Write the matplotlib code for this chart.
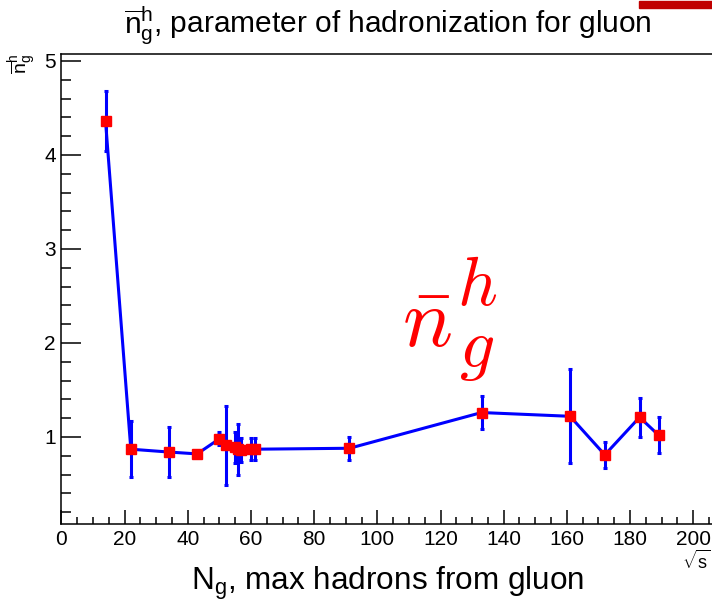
import matplotlib
matplotlib.use("Agg")
import matplotlib.pyplot as plt
from matplotlib.ticker import MultipleLocator
from matplotlib.patches import Rectangle

plt.rcParams['font.family'] = ['Liberation Sans', 'DejaVu Sans']
plt.rcParams['mathtext.fontset'] = 'custom'
plt.rcParams['mathtext.rm'] = 'Liberation Sans'
plt.rcParams['mathtext.it'] = 'Liberation Sans:italic'

# energies (sqrt s, GeV) and fitted parameter with errors
energies = [14, 22, 34, 43, 50, 52, 55, 56, 57, 60, 61.4, 91.2, 133, 161, 172, 183, 189]
nbar = [4.36, 0.87, 0.84, 0.82, 0.98, 0.91, 0.89, 0.87, 0.86, 0.87, 0.87, 0.88,
        1.26, 1.22, 0.81, 1.21, 1.02]
nbar_err = [0.32, 0.30, 0.27, 0.02, 0.07, 0.42, 0.165, 0.27, 0.13, 0.12, 0.12, 0.12,
            0.18, 0.50, 0.14, 0.21, 0.19]

W, H = 712, 606
fig = plt.figure(figsize=(W / 100, H / 100), dpi=100)
ax = fig.add_axes([61.3 / W, 1 - 524.4 / H, 679.4 / W, 470 / H])

ax.errorbar(energies, nbar, yerr=nbar_err, color='blue', lw=2.2, elinewidth=2.2,
            capsize=1.5, capthick=2.2, marker='s', ms=6.5, mfc='red', mec='red',
            zorder=3)

ax.set_xlim(0, 215)
ax.set_ylim(0.07, 5.07)
ax.xaxis.set_major_locator(MultipleLocator(20))
ax.xaxis.set_minor_locator(MultipleLocator(5))
ax.yaxis.set_major_locator(MultipleLocator(1))
ax.yaxis.set_minor_locator(MultipleLocator(0.2))
ax.tick_params(which='both', direction='in', top=False, right=False, labelsize=15)
ax.tick_params(axis='x', which='major', length=10, width=1.1, pad=4)
ax.tick_params(axis='x', which='minor', length=5, width=1.1)
ax.tick_params(axis='y', which='major', length=14.4, width=1.1, pad=4)
ax.tick_params(axis='y', which='minor', length=7.2, width=1.1)
for s in ax.spines.values():
    s.set_linewidth(1.1)

# titles
fig.text(388 / W, 1 - 33 / H,
         r'$\overline{\mathregular{n}}_{\mathregular{g}}^{\mathregular{h}}$, parameter of hadronization for gluon',
         ha='center', va='baseline', fontsize=21.5)
fig.text(388 / W, 1 - 590 / H, r'N$_{\mathregular{g}}$, max hadrons from gluon',
         ha='center', va='baseline', fontsize=22.7)
fig.text(711 / W, 1 - 569 / H, r'$\sqrt{\mathregular{s}}$', ha='right', va='baseline',
         fontsize=13)
fig.text(39 / W, 1 - 54 / H,
         r'$\overline{\mathregular{n}}_{\mathregular{g}}^{\mathregular{h}}$',
         ha='right', va='top', rotation=90, fontsize=14)

# big label inside the frame
fig.text(402 / W, 1 - 347 / H, r'$\bar{n}$', color='red', fontsize=60,
         math_fontfamily='cm', ha='left', va='baseline')
fig.text(457 / W, 1 - 305 / H, r'$h$', color='red', fontsize=50,
         math_fontfamily='cm', ha='left', va='baseline')
fig.text(459 / W, 1 - 367 / H, r'$g$', color='red', fontsize=50,
         math_fontfamily='cm', ha='left', va='baseline')

# strip at top right
fig.patches.append(Rectangle((639 / W, 1 - 8 / H), 80 / W, 7 / H,
                             transform=fig.transFigure, color='#c00000'))

fig.savefig('out.png', dpi=100)
